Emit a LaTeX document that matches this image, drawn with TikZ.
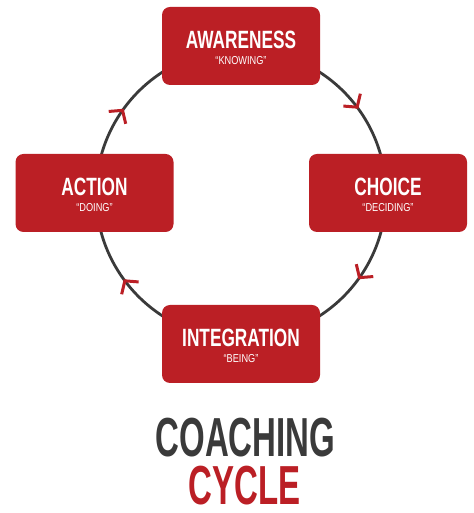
\documentclass[tikz,border=0pt]{standalone}
\usepackage{fontspec}
\setmainfont{Liberation Sans}
\newfontfamily\stagefont[FakeStretch=0.69]{Liberation Sans Bold}
\newfontfamily\stagesubfont[FakeStretch=0.8]{Liberation Sans}
\newfontfamily\headfont[FakeStretch=0.6]{Liberation Sans Bold}
\usetikzlibrary{arrows.meta, decorations.markings, positioning}
\definecolor{cycleRed}{HTML}{BB1F25}
\definecolor{cycleGrey}{HTML}{3A3A3A}

\begin{document}
\begin{tikzpicture}[
    x=1pt, y=1pt,
    stage/.style={rectangle, rounded corners=8pt, fill=cycleRed,
                  minimum width=158pt, minimum height=78pt, inner sep=0pt},
    stagetitle/.style={text=white, anchor=base, inner sep=0pt,
                       font=\stagefont\fontsize{25}{25}\selectfont},
    stagesub/.style={text=white, anchor=base, inner sep=0pt,
                     font=\stagesubfont\fontsize{11.5}{11.5}\selectfont},
    headline/.style={anchor=base, inner sep=0pt, text height=40pt, text depth=0pt,
                     font=\headfont\fontsize{55}{55}\selectfont, text=#1},
    cycletip/.style={cycleRed},
]
\useasboundingbox (0,0) rectangle (473,513);

% ── the loop, clockwise, with four chevrons ──
\coordinate (hub) at (241,319);
\draw[cycleGrey, line width=2.8pt, postaction={decorate},
      decoration={markings,
        mark=at position 0.1 with {\arrow[cycletip]{Straight Barb[length=9pt,width=21pt,line width=3pt]}},
        mark=at position 0.4 with {\arrow[cycletip]{Straight Barb[length=9pt,width=21pt,line width=3pt]}},
        mark=at position 0.6 with {\arrow[cycletip]{Straight Barb[length=9pt,width=21pt,line width=3pt]}},
        mark=at position 0.9 with {\arrow[cycletip]{Straight Barb[length=9pt,width=21pt,line width=3pt]}}}]
  (hub) ++(0:145pt) arc[start angle=0, end angle=-360, radius=145pt];

% ── stages ──
\node[stage] (aware) at (241,467) {};
\node[stagetitle] (awareTitle) at ([yshift=-2.3pt]aware.center) {AWARENESS};
\node[stagesub] (awareSub) at ([yshift=-19pt]aware.center) {“KNOWING”};

\node[stage] (choice) at (388,320) {};
\node[stagetitle] (choiceTitle) at ([yshift=-2.3pt]choice.center) {CHOICE};
\node[stagesub] (choiceSub) at ([yshift=-19pt]choice.center) {“DECIDING”};

\node[stage] (integration) at (241,169) {};
\node[stagetitle] (integrationTitle) at ([yshift=-2.3pt]integration.center) {INTEGRATION};
\node[stagesub] (integrationSub) at ([yshift=-19pt]integration.center) {“BEING”};

\node[stage] (action) at (94.5,320) {};
\node[stagetitle] (actionTitle) at ([yshift=-2.3pt]action.center) {ACTION};
\node[stagesub] (actionSub) at ([yshift=-19pt]action.center) {“DOING”};

% ── heading ──
\node[headline=cycleGrey] (coaching) at (245.5,56) {COACHING};
\node[headline=cycleRed] (cycle) at (244.5,9) {CYCLE};

\end{tikzpicture}
\end{document}
